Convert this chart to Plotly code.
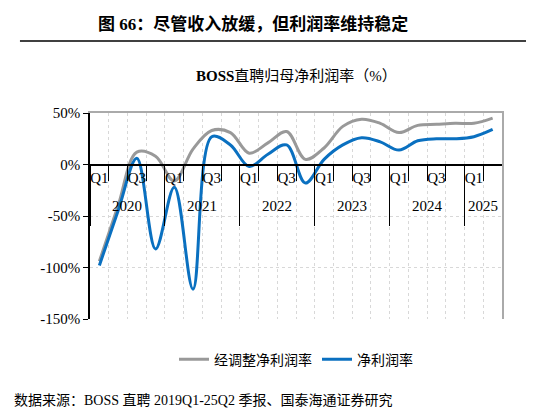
import plotly.graph_objects as go

quarters = ["Q1","Q2","Q3","Q4"]*5 + ["Q1","Q2"]
years = ["2020","2021","2022","2023","2024","2025"]
adj_margin = [-94,-40,12,8,-16,15,33,31,11,21,32,5,16,37,44,40,31,38,39,40,40,45]
net_margin = [-98,-45,6,-82,-22,-121,27,19,-2,10,19,-18,5,19,26,22,14,23,25,25,27,34]
yticks = [50,0,-50,-100,-150]

idx = list(range(len(quarters)))
ticktext = [q if q in ("Q1","Q3") else "" for q in quarters]
serif = "Liberation Serif, Noto Sans CJK SC"

fig = go.Figure()
fig.add_trace(go.Scatter(x=idx, y=adj_margin, mode="lines", name="经调整净利润率",
                         line=dict(color="#999999", width=3, shape="spline", smoothing=1)))
fig.add_trace(go.Scatter(x=idx, y=net_margin, mode="lines", name="净利润率",
                         line=dict(color="#0a70c0", width=3, shape="spline", smoothing=1)))

year_pos = [i + 1.5 for i in range(0, len(quarters), 4)]
year_pos[-1] = 20.5
year_bounds = [i - 0.5 for i in range(0, len(quarters), 4)]

fig.update_layout(
    width=534, height=410, margin=dict(l=82, r=40, t=105, b=99),
    paper_bgcolor="white", plot_bgcolor="white",
    font=dict(family=serif, size=15, color="black"),
    showlegend=True,
    legend=dict(orientation="h", x=0.5, xanchor="center", y=-0.12, yanchor="top",
                font=dict(family="Noto Sans CJK SC", size=14)),
    xaxis=dict(type="linear", range=[-0.5, len(quarters)-0.5],
               tickvals=idx, ticktext=ticktext, ticks="", showgrid=False,
               anchor="free", position=0.75, showline=True, linecolor="black", linewidth=1.5,
               tickfont=dict(family=serif, size=15), zeroline=False),
    xaxis2=dict(overlaying="x", range=[-0.5, len(quarters)-0.5], anchor="free", position=0.75,
                tickvals=[i - 0.5 for i in range(1, len(quarters))], ticktext=[""]*(len(quarters)-1),
                ticks="outside", ticklen=15, tickcolor="black", tickwidth=1.2,
                showgrid=True, gridcolor="#d8d8d8", griddash="dot", showline=False, zeroline=False),
    xaxis3=dict(overlaying="x", range=[-0.5, len(quarters)-0.5], anchor="free", position=0.75,
                tickvals=year_bounds, ticktext=[""]*len(year_bounds),
                ticks="outside", ticklen=60, tickcolor="black", tickwidth=1.2,
                showgrid=False, showline=False, zeroline=False),
    xaxis4=dict(overlaying="x", range=[-0.5, len(quarters)-0.5], anchor="y", side="top",
                showticklabels=False, showline=True, linecolor="#aaaaaa", linewidth=1.5, showgrid=False),
    yaxis=dict(range=[-150, 50], tickvals=yticks, ticktext=[f"{v}%" for v in yticks],
               ticks="outside", ticklen=5, tickcolor="black", showline=True, linecolor="black",
               linewidth=1.5, showgrid=True, gridcolor="#d8d8d8", griddash="dot", zeroline=False,
               tickfont=dict(family=serif, size=15)),
    yaxis2=dict(overlaying="y", side="right", range=[-150, 50], showticklabels=False,
                showline=True, linecolor="#aaaaaa", linewidth=1.5, showgrid=False, zeroline=False),
)
for ax in ["x2", "x3", "x4"]:
    fig.add_trace(go.Scatter(x=[0], y=[0], xaxis=ax, mode="markers", marker=dict(opacity=0),
                             showlegend=False, hoverinfo="skip"))
fig.add_trace(go.Scatter(x=[0], y=[0], yaxis="y2", mode="markers", marker=dict(opacity=0),
                         showlegend=False, hoverinfo="skip"))

for yr, xp in zip(years, year_pos):
    fig.add_annotation(x=xp, y=-40, xref="x", yref="y", text=yr, showarrow=False,
                       font=dict(family=serif, size=15))

fig.add_annotation(x=0.015, y=1, xref="paper", yref="paper", xanchor="left", yanchor="middle",
                   yshift=89, text="<b>图 66：尽管收入放缓，但利润率维持稳定</b>", showarrow=False,
                   font=dict(family=serif, size=17))
fig.add_shape(type="line", xref="paper", yref="paper", x0=-0.17, x1=1.1, y0=1.3495, y1=1.3495,
              line=dict(color="black", width=1.5))
fig.add_annotation(x=0.5, y=1, xref="paper", yref="paper", yanchor="middle", yshift=37,
                   text="<b>BOSS</b>直聘归母净利润率（%）", showarrow=False,
                   font=dict(family=serif, size=15))
fig.add_annotation(x=0.0, y=0, xref="paper", yref="paper", xanchor="left", yanchor="middle",
                   xshift=-78, yshift=-81, text="数据来源：BOSS 直聘 2019Q1-25Q2 季报、国泰海通证券研究",
                   showarrow=False, font=dict(family=serif, size=14))
fig.write_html("out.html")
